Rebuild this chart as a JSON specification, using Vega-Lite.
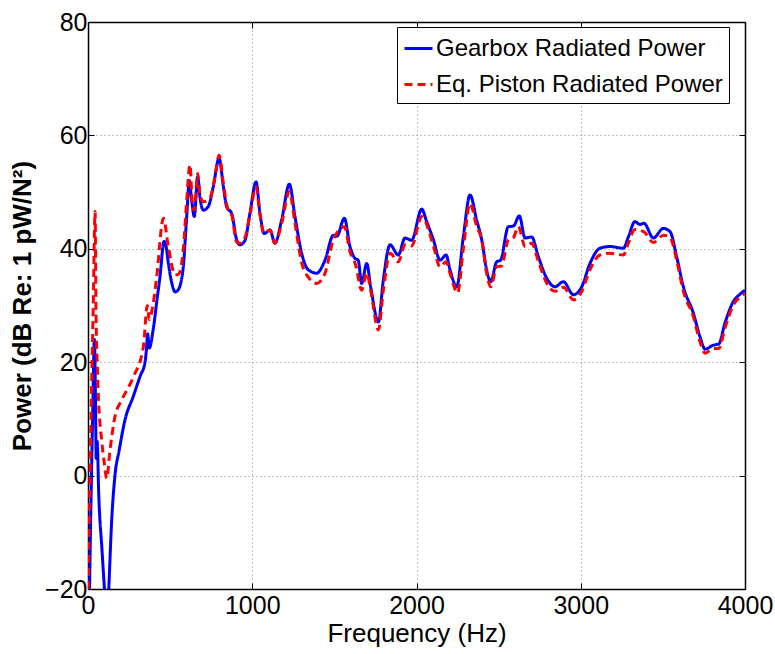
{
  "$schema": "https://vega.github.io/schema/vega-lite/v6.json",
  "width": 657,
  "height": 567,
  "autosize": {"type": "none"},
  "padding": {"left": 88, "top": 22, "right": 30, "bottom": 65},
  "background": "white",
  "config": {
    "font": "Liberation Sans",
    "view": {"stroke": "black", "strokeWidth": 1},
    "axis": {"labelColor": "black", "titleColor": "black", "domainColor": "black", "tickColor": "black", "labelFont": "Liberation Sans", "titleFont": "Liberation Sans"}
  },
  "datasets": {
    "pts": [
      {"f": 3, "v": -32, "s": "Gearbox Radiated Power"},
      {"f": 15, "v": -10, "s": "Gearbox Radiated Power"},
      {"f": 28, "v": 10, "s": "Gearbox Radiated Power"},
      {"f": 39, "v": 24, "s": "Gearbox Radiated Power"},
      {"f": 45, "v": 15, "s": "Gearbox Radiated Power"},
      {"f": 50, "v": 3, "s": "Gearbox Radiated Power"},
      {"f": 56, "v": 6, "s": "Gearbox Radiated Power"},
      {"f": 65, "v": -3, "s": "Gearbox Radiated Power"},
      {"f": 85, "v": -13, "s": "Gearbox Radiated Power"},
      {"f": 108, "v": -23, "s": "Gearbox Radiated Power"},
      {"f": 118, "v": -26, "s": "Gearbox Radiated Power"},
      {"f": 128, "v": -19, "s": "Gearbox Radiated Power"},
      {"f": 144, "v": -8, "s": "Gearbox Radiated Power"},
      {"f": 164, "v": 0, "s": "Gearbox Radiated Power"},
      {"f": 190, "v": 4.5, "s": "Gearbox Radiated Power"},
      {"f": 225, "v": 9.8, "s": "Gearbox Radiated Power"},
      {"f": 276, "v": 14, "s": "Gearbox Radiated Power"},
      {"f": 317, "v": 17.5, "s": "Gearbox Radiated Power"},
      {"f": 347, "v": 20, "s": "Gearbox Radiated Power"},
      {"f": 355, "v": 22, "s": "Gearbox Radiated Power"},
      {"f": 363, "v": 25, "s": "Gearbox Radiated Power"},
      {"f": 373, "v": 22.5, "s": "Gearbox Radiated Power"},
      {"f": 398, "v": 26, "s": "Gearbox Radiated Power"},
      {"f": 420, "v": 31, "s": "Gearbox Radiated Power"},
      {"f": 438, "v": 35, "s": "Gearbox Radiated Power"},
      {"f": 463, "v": 41.3, "s": "Gearbox Radiated Power"},
      {"f": 475, "v": 40.5, "s": "Gearbox Radiated Power"},
      {"f": 489, "v": 37.5, "s": "Gearbox Radiated Power"},
      {"f": 510, "v": 34, "s": "Gearbox Radiated Power"},
      {"f": 530, "v": 32.4, "s": "Gearbox Radiated Power"},
      {"f": 550, "v": 32.8, "s": "Gearbox Radiated Power"},
      {"f": 565, "v": 34, "s": "Gearbox Radiated Power"},
      {"f": 580, "v": 36.8, "s": "Gearbox Radiated Power"},
      {"f": 601, "v": 45.7, "s": "Gearbox Radiated Power"},
      {"f": 617, "v": 52, "s": "Gearbox Radiated Power"},
      {"f": 631, "v": 48.6, "s": "Gearbox Radiated Power"},
      {"f": 647, "v": 45.7, "s": "Gearbox Radiated Power"},
      {"f": 668, "v": 52.7, "s": "Gearbox Radiated Power"},
      {"f": 682, "v": 49, "s": "Gearbox Radiated Power"},
      {"f": 702, "v": 46.8, "s": "Gearbox Radiated Power"},
      {"f": 733, "v": 47.5, "s": "Gearbox Radiated Power"},
      {"f": 763, "v": 51, "s": "Gearbox Radiated Power"},
      {"f": 798, "v": 56, "s": "Gearbox Radiated Power"},
      {"f": 824, "v": 51, "s": "Gearbox Radiated Power"},
      {"f": 844, "v": 47.4, "s": "Gearbox Radiated Power"},
      {"f": 875, "v": 46.2, "s": "Gearbox Radiated Power"},
      {"f": 905, "v": 41.6, "s": "Gearbox Radiated Power"},
      {"f": 925, "v": 40.7, "s": "Gearbox Radiated Power"},
      {"f": 956, "v": 41.5, "s": "Gearbox Radiated Power"},
      {"f": 986, "v": 46.3, "s": "Gearbox Radiated Power"},
      {"f": 1023, "v": 51.8, "s": "Gearbox Radiated Power"},
      {"f": 1047, "v": 46.3, "s": "Gearbox Radiated Power"},
      {"f": 1072, "v": 42.7, "s": "Gearbox Radiated Power"},
      {"f": 1108, "v": 43.3, "s": "Gearbox Radiated Power"},
      {"f": 1138, "v": 41, "s": "Gearbox Radiated Power"},
      {"f": 1179, "v": 45.1, "s": "Gearbox Radiated Power"},
      {"f": 1226, "v": 51.4, "s": "Gearbox Radiated Power"},
      {"f": 1260, "v": 45.7, "s": "Gearbox Radiated Power"},
      {"f": 1301, "v": 39.2, "s": "Gearbox Radiated Power"},
      {"f": 1341, "v": 36.3, "s": "Gearbox Radiated Power"},
      {"f": 1392, "v": 35.7, "s": "Gearbox Radiated Power"},
      {"f": 1443, "v": 38, "s": "Gearbox Radiated Power"},
      {"f": 1494, "v": 42.4, "s": "Gearbox Radiated Power"},
      {"f": 1515, "v": 42.2, "s": "Gearbox Radiated Power"},
      {"f": 1561, "v": 45.4, "s": "Gearbox Radiated Power"},
      {"f": 1595, "v": 40.4, "s": "Gearbox Radiated Power"},
      {"f": 1626, "v": 38.3, "s": "Gearbox Radiated Power"},
      {"f": 1645, "v": 38, "s": "Gearbox Radiated Power"},
      {"f": 1666, "v": 33.9, "s": "Gearbox Radiated Power"},
      {"f": 1697, "v": 37.4, "s": "Gearbox Radiated Power"},
      {"f": 1721, "v": 33.3, "s": "Gearbox Radiated Power"},
      {"f": 1768, "v": 27.1, "s": "Gearbox Radiated Power"},
      {"f": 1798, "v": 34.5, "s": "Gearbox Radiated Power"},
      {"f": 1839, "v": 40.7, "s": "Gearbox Radiated Power"},
      {"f": 1889, "v": 38.9, "s": "Gearbox Radiated Power"},
      {"f": 1930, "v": 41.9, "s": "Gearbox Radiated Power"},
      {"f": 1970, "v": 41.5, "s": "Gearbox Radiated Power"},
      {"f": 2032, "v": 47, "s": "Gearbox Radiated Power"},
      {"f": 2062, "v": 44.8, "s": "Gearbox Radiated Power"},
      {"f": 2103, "v": 41.6, "s": "Gearbox Radiated Power"},
      {"f": 2143, "v": 38, "s": "Gearbox Radiated Power"},
      {"f": 2180, "v": 38.9, "s": "Gearbox Radiated Power"},
      {"f": 2204, "v": 36.3, "s": "Gearbox Radiated Power"},
      {"f": 2245, "v": 33.3, "s": "Gearbox Radiated Power"},
      {"f": 2285, "v": 42.1, "s": "Gearbox Radiated Power"},
      {"f": 2326, "v": 49.5, "s": "Gearbox Radiated Power"},
      {"f": 2366, "v": 45.1, "s": "Gearbox Radiated Power"},
      {"f": 2397, "v": 41.6, "s": "Gearbox Radiated Power"},
      {"f": 2427, "v": 36.3, "s": "Gearbox Radiated Power"},
      {"f": 2452, "v": 34.2, "s": "Gearbox Radiated Power"},
      {"f": 2488, "v": 37.7, "s": "Gearbox Radiated Power"},
      {"f": 2512, "v": 38, "s": "Gearbox Radiated Power"},
      {"f": 2559, "v": 43.9, "s": "Gearbox Radiated Power"},
      {"f": 2590, "v": 44, "s": "Gearbox Radiated Power"},
      {"f": 2626, "v": 45.8, "s": "Gearbox Radiated Power"},
      {"f": 2661, "v": 41.9, "s": "Gearbox Radiated Power"},
      {"f": 2701, "v": 42.1, "s": "Gearbox Radiated Power"},
      {"f": 2742, "v": 38.6, "s": "Gearbox Radiated Power"},
      {"f": 2793, "v": 34.8, "s": "Gearbox Radiated Power"},
      {"f": 2843, "v": 33.3, "s": "Gearbox Radiated Power"},
      {"f": 2894, "v": 34.2, "s": "Gearbox Radiated Power"},
      {"f": 2955, "v": 31.9, "s": "Gearbox Radiated Power"},
      {"f": 3006, "v": 33.3, "s": "Gearbox Radiated Power"},
      {"f": 3056, "v": 37.4, "s": "Gearbox Radiated Power"},
      {"f": 3117, "v": 40.1, "s": "Gearbox Radiated Power"},
      {"f": 3178, "v": 40.4, "s": "Gearbox Radiated Power"},
      {"f": 3259, "v": 40.1, "s": "Gearbox Radiated Power"},
      {"f": 3290, "v": 42.1, "s": "Gearbox Radiated Power"},
      {"f": 3330, "v": 44.8, "s": "Gearbox Radiated Power"},
      {"f": 3360, "v": 44.3, "s": "Gearbox Radiated Power"},
      {"f": 3385, "v": 44.5, "s": "Gearbox Radiated Power"},
      {"f": 3442, "v": 41.9, "s": "Gearbox Radiated Power"},
      {"f": 3503, "v": 43.6, "s": "Gearbox Radiated Power"},
      {"f": 3544, "v": 43, "s": "Gearbox Radiated Power"},
      {"f": 3584, "v": 38.6, "s": "Gearbox Radiated Power"},
      {"f": 3625, "v": 33.3, "s": "Gearbox Radiated Power"},
      {"f": 3686, "v": 28.6, "s": "Gearbox Radiated Power"},
      {"f": 3726, "v": 24.5, "s": "Gearbox Radiated Power"},
      {"f": 3757, "v": 22.3, "s": "Gearbox Radiated Power"},
      {"f": 3807, "v": 23, "s": "Gearbox Radiated Power"},
      {"f": 3840, "v": 23.2, "s": "Gearbox Radiated Power"},
      {"f": 3878, "v": 26.9, "s": "Gearbox Radiated Power"},
      {"f": 3929, "v": 30.7, "s": "Gearbox Radiated Power"},
      {"f": 3970, "v": 32, "s": "Gearbox Radiated Power"},
      {"f": 4000, "v": 32.7, "s": "Gearbox Radiated Power"},

      {"f": 2, "v": -20, "s": "Eq. Piston Radiated Power"},
      {"f": 12, "v": 0, "s": "Eq. Piston Radiated Power"},
      {"f": 22, "v": 16, "s": "Eq. Piston Radiated Power"},
      {"f": 32, "v": 30, "s": "Eq. Piston Radiated Power"},
      {"f": 43, "v": 46.6, "s": "Eq. Piston Radiated Power"},
      {"f": 49, "v": 28, "s": "Eq. Piston Radiated Power"},
      {"f": 56, "v": 20, "s": "Eq. Piston Radiated Power"},
      {"f": 63, "v": 14, "s": "Eq. Piston Radiated Power"},
      {"f": 83, "v": 6.3, "s": "Eq. Piston Radiated Power"},
      {"f": 100, "v": 2, "s": "Eq. Piston Radiated Power"},
      {"f": 114, "v": -0.5, "s": "Eq. Piston Radiated Power"},
      {"f": 134, "v": 4.5, "s": "Eq. Piston Radiated Power"},
      {"f": 164, "v": 10.4, "s": "Eq. Piston Radiated Power"},
      {"f": 205, "v": 13.3, "s": "Eq. Piston Radiated Power"},
      {"f": 276, "v": 17.4, "s": "Eq. Piston Radiated Power"},
      {"f": 337, "v": 22.7, "s": "Eq. Piston Radiated Power"},
      {"f": 361, "v": 30, "s": "Eq. Piston Radiated Power"},
      {"f": 373, "v": 27.5, "s": "Eq. Piston Radiated Power"},
      {"f": 395, "v": 30, "s": "Eq. Piston Radiated Power"},
      {"f": 418, "v": 35, "s": "Eq. Piston Radiated Power"},
      {"f": 459, "v": 45.4, "s": "Eq. Piston Radiated Power"},
      {"f": 489, "v": 40.4, "s": "Eq. Piston Radiated Power"},
      {"f": 530, "v": 35.4, "s": "Eq. Piston Radiated Power"},
      {"f": 550, "v": 35.5, "s": "Eq. Piston Radiated Power"},
      {"f": 580, "v": 39.8, "s": "Eq. Piston Radiated Power"},
      {"f": 601, "v": 48.6, "s": "Eq. Piston Radiated Power"},
      {"f": 621, "v": 54.8, "s": "Eq. Piston Radiated Power"},
      {"f": 635, "v": 48, "s": "Eq. Piston Radiated Power"},
      {"f": 647, "v": 46.8, "s": "Eq. Piston Radiated Power"},
      {"f": 668, "v": 53.3, "s": "Eq. Piston Radiated Power"},
      {"f": 682, "v": 49.5, "s": "Eq. Piston Radiated Power"},
      {"f": 702, "v": 48.3, "s": "Eq. Piston Radiated Power"},
      {"f": 743, "v": 49, "s": "Eq. Piston Radiated Power"},
      {"f": 773, "v": 52.7, "s": "Eq. Piston Radiated Power"},
      {"f": 798, "v": 56.5, "s": "Eq. Piston Radiated Power"},
      {"f": 824, "v": 51.5, "s": "Eq. Piston Radiated Power"},
      {"f": 849, "v": 47.2, "s": "Eq. Piston Radiated Power"},
      {"f": 875, "v": 46, "s": "Eq. Piston Radiated Power"},
      {"f": 905, "v": 41.2, "s": "Eq. Piston Radiated Power"},
      {"f": 925, "v": 41, "s": "Eq. Piston Radiated Power"},
      {"f": 956, "v": 42, "s": "Eq. Piston Radiated Power"},
      {"f": 986, "v": 46, "s": "Eq. Piston Radiated Power"},
      {"f": 1023, "v": 50.9, "s": "Eq. Piston Radiated Power"},
      {"f": 1047, "v": 46, "s": "Eq. Piston Radiated Power"},
      {"f": 1072, "v": 42.7, "s": "Eq. Piston Radiated Power"},
      {"f": 1108, "v": 43.3, "s": "Eq. Piston Radiated Power"},
      {"f": 1138, "v": 41, "s": "Eq. Piston Radiated Power"},
      {"f": 1179, "v": 44.5, "s": "Eq. Piston Radiated Power"},
      {"f": 1226, "v": 50.1, "s": "Eq. Piston Radiated Power"},
      {"f": 1260, "v": 44.5, "s": "Eq. Piston Radiated Power"},
      {"f": 1301, "v": 37.5, "s": "Eq. Piston Radiated Power"},
      {"f": 1341, "v": 35, "s": "Eq. Piston Radiated Power"},
      {"f": 1392, "v": 33.9, "s": "Eq. Piston Radiated Power"},
      {"f": 1443, "v": 35.7, "s": "Eq. Piston Radiated Power"},
      {"f": 1494, "v": 41.6, "s": "Eq. Piston Radiated Power"},
      {"f": 1561, "v": 43.9, "s": "Eq. Piston Radiated Power"},
      {"f": 1595, "v": 39.5, "s": "Eq. Piston Radiated Power"},
      {"f": 1630, "v": 37.1, "s": "Eq. Piston Radiated Power"},
      {"f": 1666, "v": 32.7, "s": "Eq. Piston Radiated Power"},
      {"f": 1697, "v": 35.7, "s": "Eq. Piston Radiated Power"},
      {"f": 1721, "v": 32.7, "s": "Eq. Piston Radiated Power"},
      {"f": 1768, "v": 25.7, "s": "Eq. Piston Radiated Power"},
      {"f": 1798, "v": 32.7, "s": "Eq. Piston Radiated Power"},
      {"f": 1839, "v": 39.2, "s": "Eq. Piston Radiated Power"},
      {"f": 1889, "v": 37.7, "s": "Eq. Piston Radiated Power"},
      {"f": 1930, "v": 40.7, "s": "Eq. Piston Radiated Power"},
      {"f": 1970, "v": 40.5, "s": "Eq. Piston Radiated Power"},
      {"f": 2032, "v": 45.7, "s": "Eq. Piston Radiated Power"},
      {"f": 2103, "v": 40.5, "s": "Eq. Piston Radiated Power"},
      {"f": 2143, "v": 36.8, "s": "Eq. Piston Radiated Power"},
      {"f": 2180, "v": 37.7, "s": "Eq. Piston Radiated Power"},
      {"f": 2204, "v": 35.7, "s": "Eq. Piston Radiated Power"},
      {"f": 2250, "v": 32.2, "s": "Eq. Piston Radiated Power"},
      {"f": 2285, "v": 40, "s": "Eq. Piston Radiated Power"},
      {"f": 2326, "v": 48, "s": "Eq. Piston Radiated Power"},
      {"f": 2366, "v": 44, "s": "Eq. Piston Radiated Power"},
      {"f": 2397, "v": 41.6, "s": "Eq. Piston Radiated Power"},
      {"f": 2427, "v": 35.7, "s": "Eq. Piston Radiated Power"},
      {"f": 2452, "v": 33.3, "s": "Eq. Piston Radiated Power"},
      {"f": 2488, "v": 36.8, "s": "Eq. Piston Radiated Power"},
      {"f": 2518, "v": 37, "s": "Eq. Piston Radiated Power"},
      {"f": 2559, "v": 41.6, "s": "Eq. Piston Radiated Power"},
      {"f": 2590, "v": 42, "s": "Eq. Piston Radiated Power"},
      {"f": 2620, "v": 43.9, "s": "Eq. Piston Radiated Power"},
      {"f": 2661, "v": 40.4, "s": "Eq. Piston Radiated Power"},
      {"f": 2701, "v": 41, "s": "Eq. Piston Radiated Power"},
      {"f": 2742, "v": 37.8, "s": "Eq. Piston Radiated Power"},
      {"f": 2793, "v": 33.9, "s": "Eq. Piston Radiated Power"},
      {"f": 2843, "v": 32.5, "s": "Eq. Piston Radiated Power"},
      {"f": 2894, "v": 33.2, "s": "Eq. Piston Radiated Power"},
      {"f": 2955, "v": 31, "s": "Eq. Piston Radiated Power"},
      {"f": 3006, "v": 32.5, "s": "Eq. Piston Radiated Power"},
      {"f": 3056, "v": 36.3, "s": "Eq. Piston Radiated Power"},
      {"f": 3117, "v": 38.9, "s": "Eq. Piston Radiated Power"},
      {"f": 3178, "v": 39.2, "s": "Eq. Piston Radiated Power"},
      {"f": 3259, "v": 38.9, "s": "Eq. Piston Radiated Power"},
      {"f": 3290, "v": 41, "s": "Eq. Piston Radiated Power"},
      {"f": 3330, "v": 43.4, "s": "Eq. Piston Radiated Power"},
      {"f": 3385, "v": 43, "s": "Eq. Piston Radiated Power"},
      {"f": 3442, "v": 41.1, "s": "Eq. Piston Radiated Power"},
      {"f": 3503, "v": 42.4, "s": "Eq. Piston Radiated Power"},
      {"f": 3544, "v": 42, "s": "Eq. Piston Radiated Power"},
      {"f": 3584, "v": 38, "s": "Eq. Piston Radiated Power"},
      {"f": 3625, "v": 32.5, "s": "Eq. Piston Radiated Power"},
      {"f": 3686, "v": 28, "s": "Eq. Piston Radiated Power"},
      {"f": 3726, "v": 23.6, "s": "Eq. Piston Radiated Power"},
      {"f": 3757, "v": 21.6, "s": "Eq. Piston Radiated Power"},
      {"f": 3807, "v": 22.4, "s": "Eq. Piston Radiated Power"},
      {"f": 3840, "v": 22.4, "s": "Eq. Piston Radiated Power"},
      {"f": 3878, "v": 26, "s": "Eq. Piston Radiated Power"},
      {"f": 3929, "v": 30.1, "s": "Eq. Piston Radiated Power"},
      {"f": 3970, "v": 31.5, "s": "Eq. Piston Radiated Power"},
      {"f": 4000, "v": 32.1, "s": "Eq. Piston Radiated Power"}
    ]
  },
  "data": {"name": "pts"},
  "layer": [
    {
      "transform": [{"filter": "datum.s == 'Gearbox Radiated Power'"}],
      "mark": {"type": "line", "strokeWidth": 3, "clip": true, "interpolate": "monotone"},
      "encoding": {
        "x": {"field": "f", "type": "quantitative", "scale": {"domain": [0, 4000], "nice": false},
          "axis": {"values": [0, 1000, 2000, 3000, 4000], "format": "d", "title": "Frequency (Hz)", "titleFontSize": 26, "titleFontWeight": "normal", "titlePadding": 2, "labelFontSize": 25, "labelPadding": 10, "tickSize": -6, "labelFlush": false, "grid": true, "gridColor": "#888888", "gridDash": [1, 3], "gridOpacity": 1, "domainWidth": 1.5}},
        "y": {"field": "v", "type": "quantitative", "scale": {"domain": [-20, 80], "nice": false},
          "axis": {"values": [-20, 0, 20, 40, 60, 80], "title": "Power (dB Re: 1 pW/N²)", "titleFontSize": 26, "titleFontWeight": "bold", "titlePadding": 9, "labelFontSize": 25, "labelPadding": 7, "tickSize": -6, "grid": true, "gridColor": "#888888", "gridDash": [1, 3], "gridOpacity": 1, "domainWidth": 1.5}},
        "color": {"field": "s", "type": "nominal", "scale": {"domain": ["Gearbox Radiated Power", "Eq. Piston Radiated Power"], "range": ["#0000ff", "#ff0000"]},
          "legend": {"title": null, "orient": "none", "legendX": 309, "legendY": 5, "labelFontSize": 24, "labelLimit": 400, "symbolType": "stroke", "symbolSize": 784, "symbolStrokeWidth": 3, "labelOffset": 2, "rowPadding": 8, "padding": 6, "strokeColor": "black", "fillColor": "white", "labelColor": "black"}},
        "strokeDash": {"field": "s", "type": "nominal", "scale": {"domain": ["Gearbox Radiated Power", "Eq. Piston Radiated Power"], "range": [[1, 0], [8, 5]]},
          "legend": {"title": null, "orient": "none", "legendX": 309, "legendY": 5, "labelFontSize": 24, "labelLimit": 400, "symbolType": "stroke", "symbolSize": 784, "symbolStrokeWidth": 3, "labelOffset": 2, "rowPadding": 8, "padding": 6, "strokeColor": "black", "fillColor": "white", "labelColor": "black"}}
      }
    },
    {
      "transform": [{"filter": "datum.s == 'Eq. Piston Radiated Power'"}],
      "mark": {"type": "line", "strokeWidth": 3, "clip": true, "interpolate": "monotone"},
      "encoding": {
        "x": {"field": "f", "type": "quantitative", "axis": null},
        "y": {"field": "v", "type": "quantitative", "axis": null},
        "color": {"field": "s", "type": "nominal"},
        "strokeDash": {"field": "s", "type": "nominal"}
      }
    },
    {
      "mark": {"type": "line", "opacity": 0},
      "encoding": {
        "x": {"field": "f", "type": "quantitative", "axis": {"orient": "top", "values": [0, 1000, 2000, 3000, 4000], "labels": false, "title": null, "tickSize": -6, "grid": false, "domainWidth": 1.5}},
        "y": {"field": "v", "type": "quantitative", "axis": {"orient": "right", "values": [-20, 0, 20, 40, 60, 80], "labels": false, "title": null, "tickSize": -6, "grid": false, "domainWidth": 1.5}}
      }
    }
  ],
  "resolve": {"axis": {"x": "independent", "y": "independent"}}
}
